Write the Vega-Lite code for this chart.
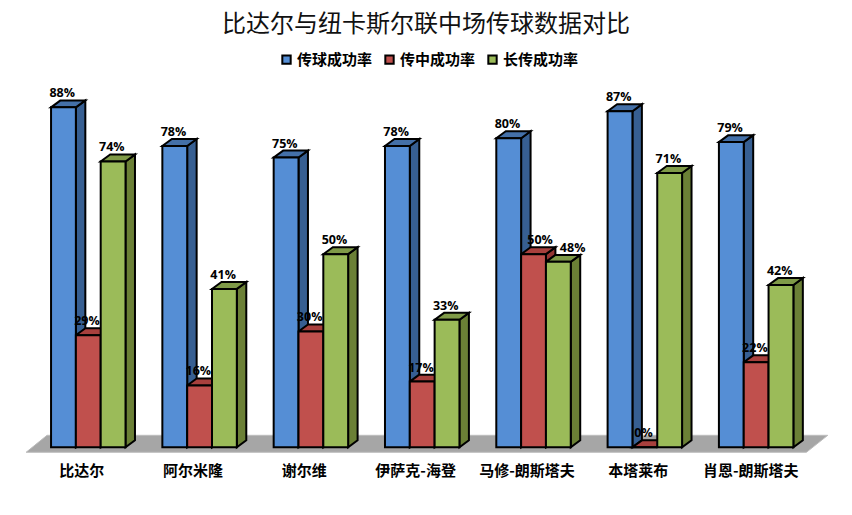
{
"$schema":"https://vega.github.io/schema/vega-lite/v6.json",
"width":802,"height":394,
"autosize":{"type":"none"},
"padding":{"left":25,"top":61,"right":25,"bottom":60},
"background":"white",
"config":{"view":{"stroke":null}},
"title":{"text":"比达尔与纽卡斯尔联中场传球数据对比","font":"Noto Sans CJK SC","fontSize":24,"fontWeight":"normal","color":"#111111","anchor":"middle","offset":15},
"datasets":{"bars":[
{"player":"比达尔","metric":"传球成功率","value":88},{"player":"比达尔","metric":"传中成功率","value":29},{"player":"比达尔","metric":"长传成功率","value":74},
{"player":"阿尔米隆","metric":"传球成功率","value":78},{"player":"阿尔米隆","metric":"传中成功率","value":16},{"player":"阿尔米隆","metric":"长传成功率","value":41},
{"player":"谢尔维","metric":"传球成功率","value":75},{"player":"谢尔维","metric":"传中成功率","value":30},{"player":"谢尔维","metric":"长传成功率","value":50},
{"player":"伊萨克-海登","metric":"传球成功率","value":78},{"player":"伊萨克-海登","metric":"传中成功率","value":17},{"player":"伊萨克-海登","metric":"长传成功率","value":33},
{"player":"马修-朗斯塔夫","metric":"传球成功率","value":80},{"player":"马修-朗斯塔夫","metric":"传中成功率","value":50},{"player":"马修-朗斯塔夫","metric":"长传成功率","value":48},
{"player":"本塔莱布","metric":"传球成功率","value":87},{"player":"本塔莱布","metric":"传中成功率","value":0},{"player":"本塔莱布","metric":"长传成功率","value":71},
{"player":"肖恩-朗斯塔夫","metric":"传球成功率","value":79},{"player":"肖恩-朗斯塔夫","metric":"传中成功率","value":22},{"player":"肖恩-朗斯塔夫","metric":"长传成功率","value":42}
],"floor":[{"edge":0},{"edge":1}]},
"resolve":{"scale":{"color":"independent"}},
"layer":[
{"data":{"name":"floor"},
 "transform":[{"calculate":"-1.3+datum.edge*4.4","as":"fy"},{"calculate":"0.01+datum.edge*0.188","as":"fx"},{"calculate":"7.02+datum.edge*0.192","as":"fx2"}],
 "mark":{"type":"area","orient":"horizontal","color":"#A6A6A6","stroke":"#BDBDBD","strokeWidth":1},
 "encoding":{
  "y":{"field":"fy","type":"quantitative","scale":{"domain":[-2,100],"nice":false,"zero":false},"axis":null},
  "x":{"field":"fx","type":"quantitative","scale":{"domain":[0,7.205],"nice":false,"zero":false},
   "axis":{"values":[0.505,1.505,2.505,3.505,4.505,5.505,6.515],"labelExpr":"['比达尔','阿尔米隆','谢尔维','伊萨克-海登','马修-朗斯塔夫','本塔莱布','肖恩-朗斯塔夫'][floor(datum.value)]","domain":false,"ticks":false,"grid":false,"title":null,"labelFont":"Noto Sans CJK SC","labelFontSize":15,"labelFontWeight":"bold","labelColor":"#000000","labelPadding":8,"labelOverlap":false,"labelBound":false,"labelFlush":false}},
  "x2":{"field":"fx2"}}},
{"data":{"name":"bars"},
 "transform":[
  {"calculate":"indexof(['比达尔','阿尔米隆','谢尔维','伊萨克-海登','马修-朗斯塔夫','本塔莱布','肖恩-朗斯塔夫'],datum.player)","as":"idx"},
  {"calculate":"indexof(['传球成功率','传中成功率','长传成功率'],datum.metric)","as":"m"},
  {"calculate":"datum.idx+0.234+datum.m*0.223","as":"left"},
  {"calculate":"[0,1]","as":"t"},{"flatten":["t"]},
  {"calculate":"datum.left+0.223+datum.t*0.085","as":"sx"},
  {"calculate":"datum.value+datum.t*1.8","as":"sy"},
  {"calculate":"datum.t*1.8","as":"sy2"},
  {"calculate":"datum.player+datum.metric","as":"key"}],
 "mark":{"type":"area","stroke":"#000000","strokeWidth":2,"strokeJoin":"miter"},
 "encoding":{
  "x":{"field":"sx","type":"quantitative","title":null},
  "y":{"field":"sy","type":"quantitative","axis":null},
  "y2":{"field":"sy2"},
  "detail":{"field":"key"},
  "color":{"field":"metric","type":"nominal","legend":null,"scale":{"domain":["传球成功率","传中成功率","长传成功率"],"range":["#375F92","#943634","#6B8036"]}}}},
{"data":{"name":"bars"},
 "transform":[
  {"calculate":"indexof(['比达尔','阿尔米隆','谢尔维','伊萨克-海登','马修-朗斯塔夫','本塔莱布','肖恩-朗斯塔夫'],datum.player)","as":"idx"},
  {"calculate":"indexof(['传球成功率','传中成功率','长传成功率'],datum.metric)","as":"m"},
  {"calculate":"datum.idx+0.234+datum.m*0.223","as":"left"},
  {"calculate":"[0,1]","as":"t"},{"flatten":["t"]},
  {"calculate":"datum.left+datum.t*0.085","as":"tx"},
  {"calculate":"datum.left+0.223+datum.t*0.085","as":"tx2"},
  {"calculate":"datum.value+datum.t*1.8","as":"ty"},
  {"calculate":"datum.player+datum.metric","as":"key"}],
 "mark":{"type":"area","orient":"horizontal","stroke":"#000000","strokeWidth":2,"strokeJoin":"miter"},
 "encoding":{
  "y":{"field":"ty","type":"quantitative","axis":null},
  "x":{"field":"tx","type":"quantitative","title":null},
  "x2":{"field":"tx2"},
  "detail":{"field":"key"},
  "color":{"field":"metric","type":"nominal","legend":null,"scale":{"domain":["传球成功率","传中成功率","长传成功率"],"range":["#4470A8","#A8403D","#7F9A48"]}}}},
{"data":{"name":"bars"},
 "transform":[
  {"calculate":"indexof(['比达尔','阿尔米隆','谢尔维','伊萨克-海登','马修-朗斯塔夫','本塔莱布','肖恩-朗斯塔夫'],datum.player)","as":"idx"},
  {"calculate":"indexof(['传球成功率','传中成功率','长传成功率'],datum.metric)","as":"m"},
  {"calculate":"datum.idx+0.234+datum.m*0.223","as":"left"},
  {"calculate":"datum.left+0.223","as":"right"}],
 "mark":{"type":"rect","stroke":"#000000","strokeWidth":2},
 "encoding":{
  "x":{"field":"left","type":"quantitative","title":null},
  "x2":{"field":"right"},
  "y":{"field":"value","type":"quantitative","axis":null},
  "y2":{"datum":0},
  "color":{"field":"metric","type":"nominal","scale":{"domain":["传球成功率","传中成功率","长传成功率"],"range":["#558ED5","#C0504D","#9BBB59"]},
   "legend":{"orient":"none","legendX":254,"legendY":-9,"direction":"horizontal","columns":3,"title":null,"symbolType":"square","symbolSize":70,"symbolStrokeColor":"#000000","symbolStrokeWidth":2,"symbolOpacity":1,"labelFont":"Noto Sans CJK SC","labelFontSize":15,"labelFontWeight":"bold","labelColor":"#000000","labelOffset":3,"columnPadding":8,"labelLimit":120}}}},
{"data":{"name":"bars"},
 "transform":[
  {"calculate":"indexof(['比达尔','阿尔米隆','谢尔维','伊萨克-海登','马修-朗斯塔夫','本塔莱布','肖恩-朗斯塔夫'],datum.player)","as":"idx"},
  {"calculate":"indexof(['传球成功率','传中成功率','长传成功率'],datum.metric)","as":"m"},
  {"calculate":"datum.player=='马修-朗斯塔夫'&&datum.m>0?datum.m*0.07:0","as":"nudge"},
  {"calculate":"datum.idx+0.234+datum.m*0.223+0.1+datum.nudge","as":"cx"},
  {"calculate":"datum.value+'%'","as":"lab"}],
 "mark":{"type":"text","font":"Open Sans","fontSize":12.5,"fontWeight":"bold","color":"#000000","dy":-14,"baseline":"middle","align":"center"},
 "encoding":{
  "x":{"field":"cx","type":"quantitative","title":null},
  "y":{"field":"value","type":"quantitative","axis":null},
  "text":{"field":"lab"}}}
]
}
